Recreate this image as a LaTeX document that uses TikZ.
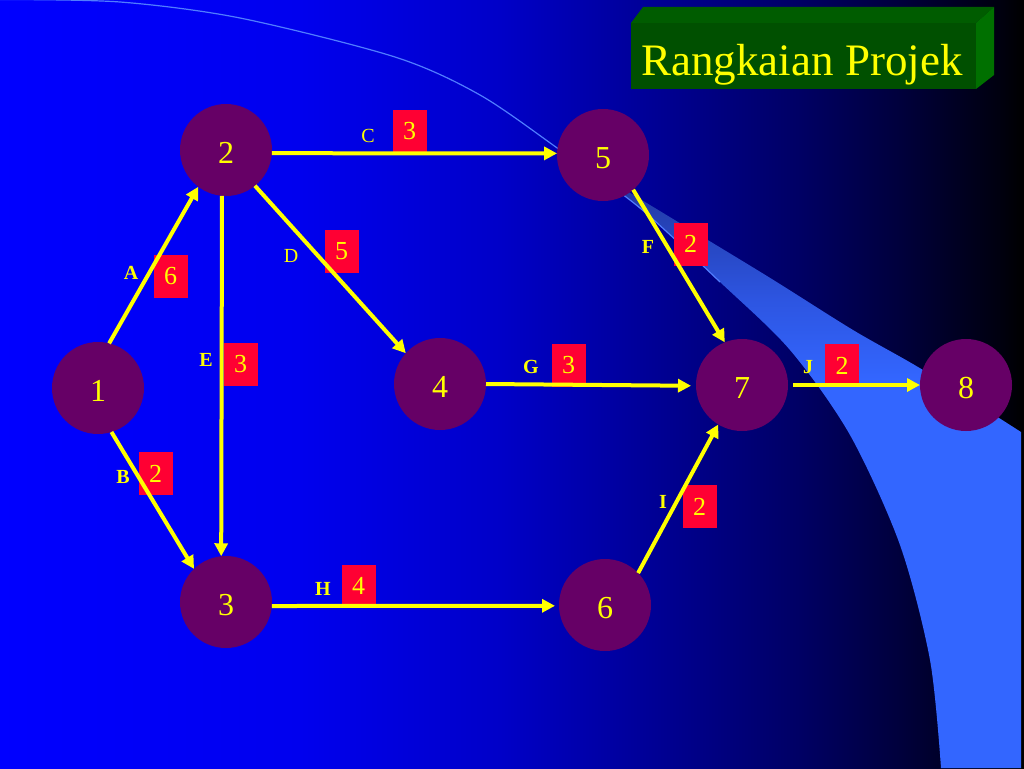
\documentclass[tikz,border=0pt]{standalone}
\usepackage{fontspec}
\setmainfont{Liberation Serif}
\usetikzlibrary{arrows.meta}
\definecolor{b0}{RGB}{0,0,255}
\definecolor{b1}{RGB}{0,0,238}
\definecolor{b2}{RGB}{0,0,200}
\definecolor{b3}{RGB}{0,0,150}
\definecolor{b4}{RGB}{0,0,100}
\definecolor{b5}{RGB}{0,0,60}
\definecolor{b6}{RGB}{0,0,15}
\definecolor{b7}{RGB}{0,0,0}
\definecolor{swl}{RGB}{51,102,255}
\definecolor{swm}{RGB}{45,85,225}
\definecolor{swd}{RGB}{35,60,170}
\definecolor{swt}{RGB}{30,50,150}
\definecolor{thinblue}{RGB}{80,125,255}
\definecolor{nodefill}{RGB}{102,0,102}
\definecolor{boxred}{RGB}{255,0,51}
\definecolor{ylw}{RGB}{255,255,0}
\definecolor{gfront}{RGB}{0,80,0}
\definecolor{gtop}{RGB}{0,92,0}
\definecolor{gside}{RGB}{0,112,0}
\pgfdeclarehorizontalshading{bgshade}{100bp}{color(0bp)=(b0); color(25bp)=(b0); color(39.65bp)=(b1); color(49.41bp)=(b2); color(56.74bp)=(b3); color(64.06bp)=(b4); color(68.95bp)=(b5); color(73.83bp)=(b6); color(75bp)=(b7); color(100bp)=(b7)}
\pgfdeclareverticalshading{swshade}{100bp}{color(0bp)=(swl); color(56.4bp)=(swl); color(62.9bp)=(swm); color(70.95bp)=(swd); color(75bp)=(swt); color(100bp)=(swt)}
\begin{document}
\begin{tikzpicture}[x=1pt,y=-1pt,
  event/.style={circle, fill=nodefill, minimum size=92pt, inner sep=0pt, outer sep=0pt,
    text=ylw, text height=26pt, text depth=0pt, font=\fontsize{32}{32}\selectfont},
  dur/.style={rectangle, fill=boxred, minimum width=34pt, minimum height=43pt, inner sep=0pt,
    text=ylw, font=\fontsize{26}{26}\selectfont},
  act/.style={text=ylw, inner sep=0pt, font=\fontsize{20}{20}\selectfont\bfseries},
  actreg/.style={text=ylw, inner sep=0pt, font=\fontsize{20}{20}\selectfont},
  link/.style={draw=ylw, line width=4pt, -{Triangle[length=13pt,width=13pt]}},
]
\useasboundingbox (0,0) rectangle (1024,768);
% background
\shade[shading=bgshade] (0,0) rectangle (1024,768);
% swoosh
\shade[shading=swshade]
  plot[smooth] coordinates {(560,150) (640,208) (720,282) (790,350) (850,435) (900,545) (930,660) (941,768)}
  -- (1021,768) -- (1021,432)
  -- plot[smooth] coordinates {(1021,432) (923,370) (853,330) (767,276) (650,205) (560,150)}
  -- cycle;
\draw[draw=thinblue, line width=1.2pt]
  plot[smooth] coordinates {(0,-0.5) (120,2) (240,18) (395,57) (480,95) (560,150) (640,208) (720,282)};
% title box
\fill[gtop] (631,23) -- (643,7) -- (994,7) -- (976,23) -- cycle;
\fill[gside] (976,23) -- (994,7) -- (994,75) -- (976,89) -- cycle;
\fill[gfront] (631,23) rectangle (976,89);
\node[anchor=base, text=ylw, inner sep=0pt, font=\fontsize{45}{45}\selectfont] (title) at (802,75) {Rangkaian Projek};
% duration boxes
\node[dur] (dA) at (170.5,276) {6};
\node[dur] (dB) at (155.5,473.5) {2};
\node[dur] (dC) at (409.5,131.5) {3};
\node[dur] (dD) at (341.5,251) {5};
\node[dur] (dE) at (240.5,364) {3};
\node[dur] (dF) at (690.5,244) {2};
\node[dur] (dG) at (568.5,365) {3};
\node[dur] (dH) at (358.5,586) {4};
\node[dur] (dI) at (699.5,506.5) {2};
\node[dur] (dJ) at (842,365.5) {2};
% events
\node[event] (n1) at (98,388) {1};
\node[event] (n2) at (226,150) {2};
\node[event] (n3) at (226,602) {3};
\node[event] (n4) at (440,384) {4};
\node[event] (n5) at (603,155) {5};
\node[event] (n6) at (605,605) {6};
\node[event] (n7) at (742,385) {7};
\node[event] (n8) at (966,385) {8};
% activities
\draw[link] (n1.76) -- (n2.233);
\draw[link] (n1.287) -- (n3.134);
\draw[link] (n2.356) -- (n5.178);
\draw[link] (n2.309) -- (n4.138);
\draw[link] (n2.265) -- (n3.96);
\draw[link] (n5.311) -- (n7.112);
\draw[link, shorten >=5pt] (n4.0) -- (n7.181);
\draw[link, shorten >=4pt] (n3.355) -- (n6.181);
\draw[link] (n6.44) -- (n7.239);
\draw[link, shorten <=5pt] (n7.0) -- (n8.180);
% activity letters
\node[act] (lA) at (131,273) {A};
\node[act] (lB) at (123,477) {B};
\node[actreg] (lC) at (368,136) {C};
\node[actreg] (lD) at (291,256) {D};
\node[act] (lE) at (206,360) {E};
\node[act] (lF) at (648,247) {F};
\node[act] (lG) at (531,367) {G};
\node[act] (lH) at (323,589) {H};
\node[act] (lI) at (663,502) {I};
\node[act] (lJ) at (808,367) {J};
\end{tikzpicture}
\end{document}
